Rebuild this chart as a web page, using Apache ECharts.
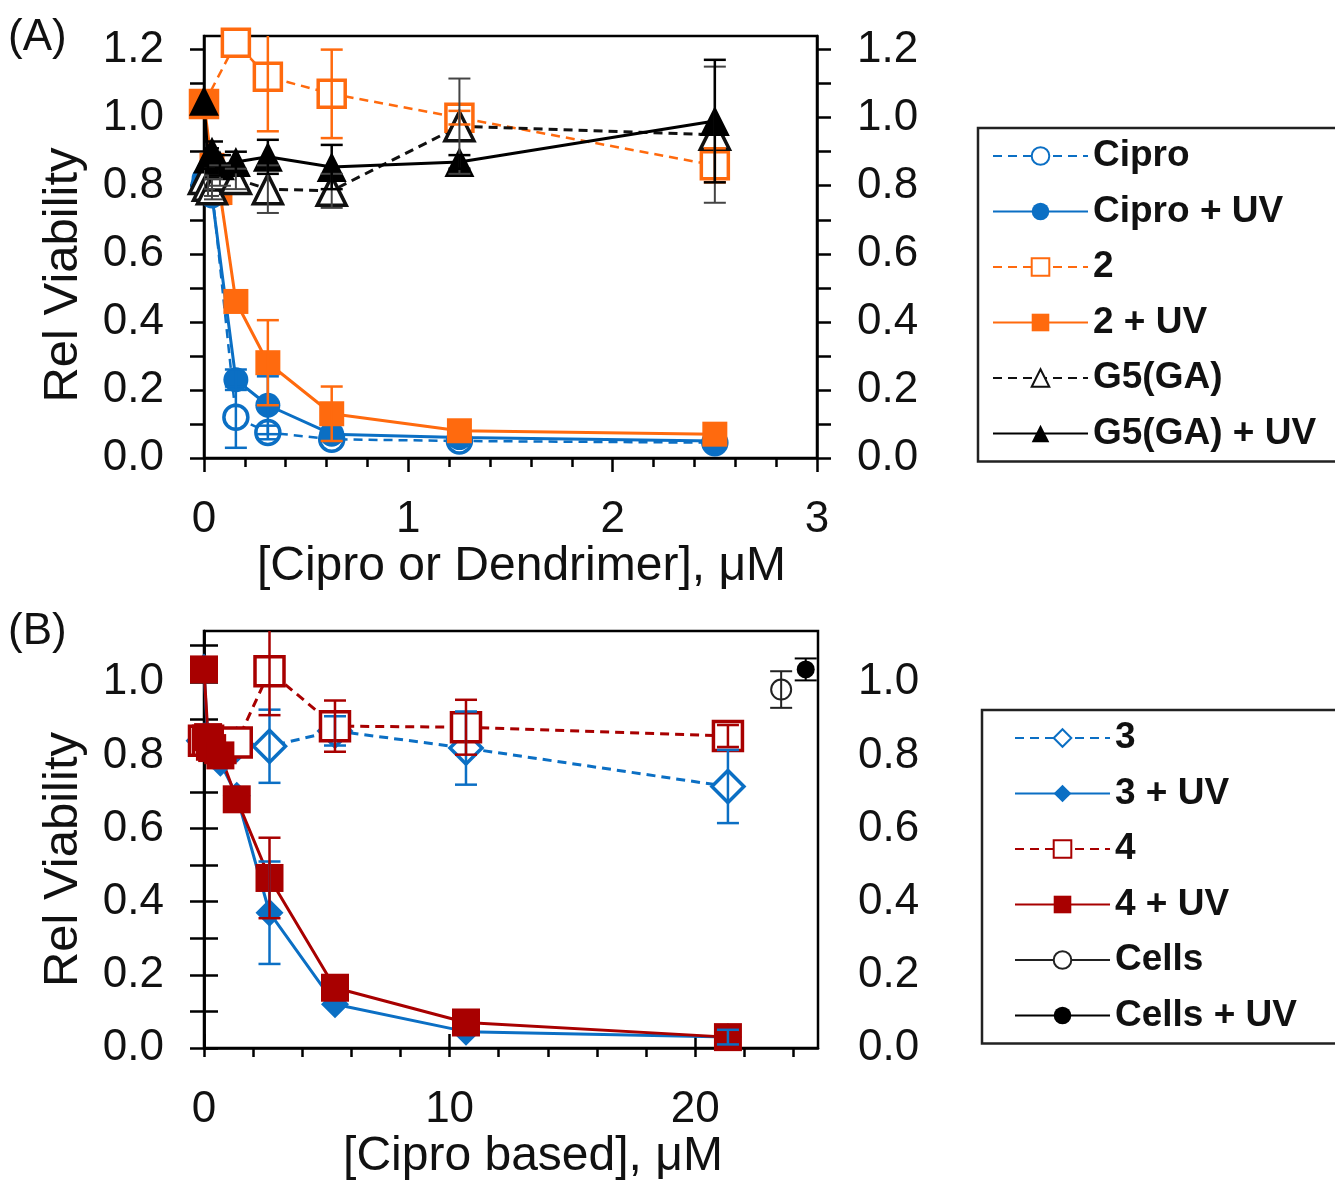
<!DOCTYPE html>
<html>
<head>
<meta charset="utf-8">
<script src="https://cdn.jsdelivr.net/npm/echarts@6/dist/echarts.min.js"></script>
<style>
html,body{margin:0;padding:0;background:#fff;}
#chart{width:1335px;height:1182px;}
</style>
</head>
<body>
<div id="chart"></div>
<script>
// ---------- Panel A data ----------
const ciproX = [0, 0.0195, 0.039, 0.156, 0.3125, 0.625, 1.25, 2.5];
const cipro = [0.80, 0.80, 0.79, 0.12, 0.075, 0.055, 0.05, 0.045];
const ciproErr = [0, 0, 0, 0.09, 0.02, 0, 0, 0];
const ciproUV = [0.82, 0.80, 0.77, 0.23, 0.155, 0.07, 0.06, 0.05];
const ciproUVErr = [0, 0, 0, 0.03, 0.085, 0, 0, 0];

const d2X = [0, 0.156, 0.3125, 0.625, 1.25, 2.5];
const d2 = [1.04, 1.22, 1.12, 1.07, 1.0, 0.86];
const d2Err = [0, 0, 0.16, 0.13, 0.02, 0.05];

const d2UVX = [0, 0.039, 0.078, 0.156, 0.3125, 0.625, 1.25, 2.5];
const d2UV = [1.04, 0.86, 0.78, 0.46, 0.28, 0.13, 0.08, 0.07];
const d2UVErr = [0, 0, 0, 0, 0.125, 0.08, 0, 0];

const g5X = [0, 0.0195, 0.039, 0.078, 0.156, 0.3125, 0.625, 1.25, 2.5];
const g5 = [0.82, 0.80, 0.79, 0.83, 0.82, 0.79, 0.785, 0.975, 0.95];
const g5Err = [0.03, 0.03, 0.03, 0.03, 0.03, 0.07, 0.05, 0.14, 0.2];
const g5UV = [1.05, 0.88, 0.90, 0.86, 0.87, 0.885, 0.855, 0.87, 0.99];
const g5UVErr = [0, 0.03, 0.03, 0.03, 0.03, 0.05, 0.065, 0.02, 0.18];

// ---------- Panel B data ----------
const bX = [0, 0.167, 0.333, 0.667, 1.333, 2.667, 5.333, 10.667, 21.333];
const c3 = [0.84, 0.84, 0.83, 0.82, 0.83, 0.825, 0.867, 0.82, 0.715];
const c3Err = [0, 0, 0, 0, 0, 0.1, 0.04, 0.1, 0.1];
const c3UV = [1.04, 0.82, 0.80, 0.78, 0.69, 0.37, 0.12, 0.045, 0.03];
const c3UVErr = [0, 0, 0, 0, 0, 0.14, 0, 0, 0.02];
const c4 = [0.84, 0.84, 0.83, 0.82, 0.835, 1.03, 0.88, 0.877, 0.853];
const c4Err = [0, 0, 0, 0, 0, 0.12, 0.07, 0.075, 0.03];
const c4UV = [1.035, 0.85, 0.82, 0.80, 0.68, 0.465, 0.165, 0.07, 0.03];
const c4UVErr = [0, 0, 0, 0, 0, 0.11, 0, 0, 0];
const cellsX = [23.5];
const cells = [0.98];
const cellsErr = [0.05];
const cellsUVX = [24.5];
const cellsUV = [1.035];
const cellsUVErr = [0.03];

// ---------- ticks ----------
const yTicksA = [0, 0.1, 0.2, 0.3, 0.4, 0.5, 0.6, 0.7, 0.8, 0.9, 1.0, 1.1, 1.2];
const yLabelsA = [0, 0.2, 0.4, 0.6, 0.8, 1.0, 1.2];
const yTicksB = [0, 0.1, 0.2, 0.3, 0.4, 0.5, 0.6, 0.7, 0.8, 0.9, 1.0, 1.1];
const yLabelsB = [0, 0.2, 0.4, 0.6, 0.8, 1.0];
const xMinorB = [0, 2, 4, 6, 8, 10, 12, 14, 16, 18, 20, 22, 24];
const xMajorB = [0, 10, 20];

const namesA = ['Cipro', 'Cipro + UV', '2', '2 + UV', 'G5(GA)', 'G5(GA) + UV'];
const namesB = ['3', '3 + UV', '4', '4 + UV', 'Cells', 'Cells + UV'];

const BLUE = '#0b6fc4';
const ORANGE = '#ff6a0e';
const RED = '#a80000';
const BLACK = '#000000';
const FONT = 'Liberation Sans, Arial, sans-serif';
const DASH = [9, 6];

function pairs(xs, ys) { return xs.map((x, i) => [x, ys[i]]); }

function lineSeries(name, xs, ys, o) {
  return {
    type: 'line', name: name,
    xAxisIndex: o.ax, yAxisIndex: o.ay,
    data: pairs(xs, ys),
    symbol: o.symbol, symbolSize: o.size,
    showSymbol: true,
    itemStyle: o.open
      ? { color: '#fff', borderColor: o.color, borderWidth: o.bw || 3 }
      : { color: o.color, borderWidth: 0 },
    lineStyle: { color: o.color, width: o.lw || 3, type: o.dash ? DASH : 'solid' },
    emphasis: { disabled: true },
    animation: false,
    z: o.z || 3
  };
}

function errSeries(xs, ys, es, color, ax, ay, lw) {
  const data = [];
  xs.forEach((x, i) => { if (es[i] > 0) data.push([x, ys[i], es[i]]); });
  return {
    type: 'custom', xAxisIndex: ax, yAxisIndex: ay,
    data: data, silent: true, animation: false, clip: true, z: 4,
    encode: { x: 0, y: 1 },
    renderItem: function (params, api) {
      const x = api.value(0), y = api.value(1), e = api.value(2);
      const t = api.coord([x, y + e]);
      const b = api.coord([x, y - e]);
      const hw = 11;
      const st = { stroke: color, lineWidth: lw, fill: null };
      return {
        type: 'group', children: [
          { type: 'line', shape: { x1: t[0], y1: t[1], x2: b[0], y2: b[1] }, style: st },
          { type: 'line', shape: { x1: t[0] - hw, y1: t[1], x2: t[0] + hw, y2: t[1] }, style: st },
          { type: 'line', shape: { x1: b[0] - hw, y1: b[1], x2: b[0] + hw, y2: b[1] }, style: st }
        ]
      };
    }
  };
}

const labelStyle = { fontSize: 44, color: '#111', fontFamily: FONT };

function yAxis(gi, pos, max, ticks, labels, showName, nameShift) {
  return {
    type: 'value', gridIndex: gi, position: pos, min: 0, max: max,
    axisLine: { show: true, lineStyle: { color: '#000', width: 2.5 } },
    axisTick: { show: true, inside: false, length: 14, lineStyle: { color: '#000', width: 2.5 }, customValues: ticks },
    axisLabel: Object.assign({ margin: 40, customValues: labels, formatter: v => v.toFixed(1) }, labelStyle),
    splitLine: { show: false },
    name: showName ? 'Rel Viability' : '',
    nameLocation: 'middle', nameGap: 116,
    nameTextStyle: { fontSize: 49, color: '#111', fontFamily: FONT, padding: [0, nameShift, 0, 0] }
  };
}

const option = {
  backgroundColor: '#fff',
  animation: false,
  grid: [
    { left: 204, top: 36, width: 613, height: 422, show: true, borderColor: '#000', borderWidth: 2.5, backgroundColor: 'transparent' },
    { left: 204, top: 631, width: 614, height: 420, show: true, borderColor: '#000', borderWidth: 2.5, backgroundColor: 'transparent' }
  ],
  xAxis: [
    {
      type: 'value', gridIndex: 0, min: 0, max: 3, interval: 1,
      axisLine: { lineStyle: { color: '#000', width: 2.5 } },
      axisTick: { length: 14, lineStyle: { color: '#000', width: 2.5 } },
      minorTick: { show: true, splitNumber: 5, length: 9, lineStyle: { color: '#000', width: 2.5 } },
      axisLabel: Object.assign({ margin: 40 }, labelStyle),
      splitLine: { show: false }, minorSplitLine: { show: false },
      name: '[Cipro or Dendrimer], \u03bcM', nameLocation: 'middle', nameGap: 72,
      nameTextStyle: { fontSize: 48, color: '#111', fontFamily: FONT, padding: [0, 0, 0, 22] }
    },
    {
      type: 'value', gridIndex: 1, min: 0, max: 25,
      axisLine: { lineStyle: { color: '#000', width: 2.5 } },
      axisTick: { length: 9, lineStyle: { color: '#000', width: 2.5 }, customValues: xMinorB },
      axisLabel: Object.assign({ margin: 40, customValues: xMajorB }, labelStyle),
      splitLine: { show: false },
      name: '[Cipro based], \u03bcM', nameLocation: 'middle', nameGap: 72,
      nameTextStyle: { fontSize: 48, color: '#111', fontFamily: FONT, padding: [0, 0, 0, 44] }
    },
    {
      type: 'value', gridIndex: 1, min: 0, max: 25,
      axisLine: { show: false },
      axisTick: { length: 14, lineStyle: { color: '#000', width: 2.5 }, customValues: xMajorB },
      axisLabel: { show: false },
      splitLine: { show: false }
    }
  ],
  yAxis: [
    yAxis(0, 'left', 1.24, yTicksA, yLabelsA, true, 56),
    yAxis(0, 'right', 1.24, yTicksA, yLabelsA, false, 0),
    yAxis(1, 'left', 1.14, yTicksB, yLabelsB, true, 40),
    yAxis(1, 'right', 1.14, yTicksB, yLabelsB, false, 0)
  ],
  legend: [
    {
      data: namesA, orient: 'vertical', left: 978, top: 128,
      padding: [8, 40, 8, 14], itemWidth: 95, itemHeight: 22, itemGap: 15.5,
      borderColor: '#222', borderWidth: 2.5,
      textStyle: { fontSize: 37, fontWeight: 'bold', color: '#111', fontFamily: FONT, lineHeight: 40 },
      selectedMode: false
    },
    {
      data: namesB, orient: 'vertical', left: 982, top: 710,
      padding: [8, 40, 8, 32], itemWidth: 95, itemHeight: 22, itemGap: 15.5,
      borderColor: '#222', borderWidth: 2.5,
      textStyle: { fontSize: 37, fontWeight: 'bold', color: '#111', fontFamily: FONT, lineHeight: 40 },
      selectedMode: false
    }
  ],
  graphic: [
    { type: 'text', left: 8, top: 16, style: { text: '(A)', fontSize: 44, fill: '#111', fontFamily: FONT } },
    { type: 'text', left: 8, top: 610, style: { text: '(B)', fontSize: 44, fill: '#111', fontFamily: FONT } }
  ],
  series: [
    // Panel A
    lineSeries('Cipro', ciproX, cipro, { ax: 0, ay: 0, symbol: 'circle', size: 24, color: BLUE, open: true, bw: 3.5, dash: true, lw: 2.5 }),
    lineSeries('Cipro + UV', ciproX, ciproUV, { ax: 0, ay: 0, symbol: 'circle', size: 25, color: BLUE }),
    lineSeries('2', d2X, d2, { ax: 0, ay: 0, symbol: 'rect', size: 27, color: ORANGE, open: true, bw: 3.5, dash: true, lw: 2.5 }),
    lineSeries('2 + UV', d2UVX, d2UV, { ax: 0, ay: 0, symbol: 'rect', size: 25, color: ORANGE }),
    lineSeries('G5(GA)', g5X, g5, { ax: 0, ay: 0, symbol: 'triangle', size: 29, color: '#111', open: true, bw: 3.5, dash: true }),
    lineSeries('G5(GA) + UV', g5X, g5UV, { ax: 0, ay: 0, symbol: 'triangle', size: 30, color: BLACK }),
    errSeries(ciproX, cipro, ciproErr, BLUE, 0, 0, 2.5),
    errSeries(ciproX, ciproUV, ciproUVErr, BLUE, 0, 0, 2.5),
    errSeries(d2X, d2, d2Err, ORANGE, 0, 0, 2.5),
    errSeries(d2UVX, d2UV, d2UVErr, ORANGE, 0, 0, 2.5),
    errSeries(g5X, g5, g5Err, '#444', 0, 0, 2),
    errSeries(g5X, g5UV, g5UVErr, BLACK, 0, 0, 2.5),
    // Panel B
    lineSeries('3', bX, c3, { ax: 1, ay: 2, symbol: 'diamond', size: 32, color: BLUE, open: true, bw: 3.5, dash: true }),
    lineSeries('3 + UV', bX, c3UV, { ax: 1, ay: 2, symbol: 'diamond', size: 28, color: BLUE }),
    lineSeries('4', bX, c4, { ax: 1, ay: 2, symbol: 'rect', size: 29, color: RED, open: true, bw: 3.5, dash: true }),
    lineSeries('4 + UV', bX, c4UV, { ax: 1, ay: 2, symbol: 'rect', size: 28, color: RED }),
    lineSeries('Cells', cellsX, cells, { ax: 1, ay: 2, symbol: 'circle', size: 20, color: '#222', open: true, bw: 2, lw: 1.5 }),
    lineSeries('Cells + UV', cellsUVX, cellsUV, { ax: 1, ay: 2, symbol: 'circle', size: 18, color: BLACK, lw: 1.5 }),
    errSeries(bX, c3, c3Err, BLUE, 1, 2, 2.5),
    errSeries(bX, c3UV, c3UVErr, BLUE, 1, 2, 2.5),
    errSeries(bX, c4, c4Err, RED, 1, 2, 2.5),
    errSeries(bX, c4UV, c4UVErr, RED, 1, 2, 2.5),
    errSeries(cellsX, cells, cellsErr, '#222', 1, 2, 2),
    errSeries(cellsUVX, cellsUV, cellsUVErr, BLACK, 1, 2, 2)
  ]
};

const chart = echarts.init(document.getElementById('chart'), null, { renderer: 'canvas' });
chart.setOption(option);
</script>
</body>
</html>
